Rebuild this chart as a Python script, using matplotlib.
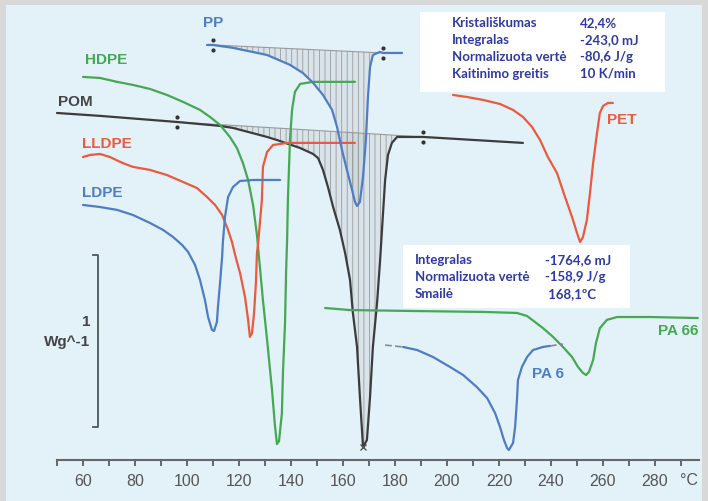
import matplotlib

matplotlib.use("Agg")
import matplotlib.pyplot as plt
import numpy as np
from matplotlib.patches import Rectangle

# DSC kreivės: temperatūra (°C) ir šilumos srautas (W/g, su poslinkiu)
hdpe_t = [60.0, 66.5, 73.1, 79.2, 85.8, 92.3, 98.5, 105.0, 108.8, 112.7, 116.5, 119.2, 121.5, 123.5,
          125.4, 126.9, 129.2, 130.8, 132.7, 133.8, 134.6, 135.4, 136.5, 136.9, 137.7, 138.1, 138.5,
          138.8, 139.6, 140.4, 141.5, 143.5, 148.5, 164.6]
hdpe_q = [2.253, 2.247, 2.224, 2.206, 2.182, 2.147, 2.106, 2.059, 2.018, 1.971, 1.900, 1.835, 1.747, 1.647,
          1.500, 1.324, 0.941, 0.706, 0.412, 0.206, 0.094, 0.112, 0.276, 0.512, 0.806, 1.100, 1.294,
          1.529, 1.882, 2.059, 2.165, 2.212, 2.224, 2.224]

lldpe_t = [60.0, 62.7, 66.5, 70.4, 73.5, 76.2, 79.2, 85.8, 92.3, 98.5, 103.8, 107.7, 110.8, 113.5,
           115.8, 117.3, 118.8, 120.4, 122.3, 123.5, 124.2, 125.0, 125.8, 126.5, 126.9, 127.3, 128.8,
           129.2, 130.8, 133.1, 138.5, 164.6]
lldpe_q = [1.782, 1.794, 1.800, 1.782, 1.759, 1.741, 1.724, 1.706, 1.676, 1.635, 1.600, 1.547, 1.500, 1.441,
           1.353, 1.282, 1.188, 1.100, 0.959, 0.824, 0.724, 0.747, 0.865, 1.041, 1.218, 1.265, 1.529,
           1.724, 1.812, 1.853, 1.865, 1.865]

ldpe_t = [60.0, 66.5, 73.1, 79.2, 85.8, 90.8, 94.6, 98.1, 100.4, 103.1, 105.0, 106.9, 108.1, 109.6,
          110.4, 111.5, 111.9, 112.7, 113.5, 113.8, 114.6, 115.8, 117.7, 120.4, 125.4, 135.8]
ldpe_q = [1.500, 1.488, 1.471, 1.441, 1.394, 1.353, 1.312, 1.265, 1.224, 1.147, 1.059, 0.941, 0.841, 0.765,
          0.759, 0.812, 0.900, 1.041, 1.194, 1.282, 1.429, 1.547, 1.606, 1.641, 1.647, 1.647]

pom_t = [50.0, 66.5, 96.2, 112.7, 117.7, 130.8, 134.6, 143.5, 148.5, 150.4, 152.3, 154.2, 156.2, 158.8,
         160.8, 162.7, 163.8, 165.4, 166.5, 167.7, 169.2, 170.4, 171.5, 173.1, 174.2, 175.4, 176.2,
         177.3, 178.8, 180.8, 190.8, 229.2]
pom_q = [2.041, 2.024, 1.988, 1.965, 1.953, 1.900, 1.882, 1.835, 1.800, 1.776, 1.706, 1.606, 1.488, 1.353,
         1.218, 1.059, 0.865, 0.665, 0.371, 0.076, 0.118, 0.371, 0.665, 0.924, 1.159, 1.453, 1.647,
         1.794, 1.865, 1.900, 1.900, 1.865]

pp_t = [107.7, 110.0, 117.7, 130.8, 139.6, 144.6, 148.5, 152.3, 155.8, 157.7, 159.6, 161.5, 163.5,
        164.6, 165.4, 166.5, 167.7, 168.8, 169.6, 170.4, 171.5, 174.2, 175.4, 182.7]
pp_q = [2.441, 2.441, 2.424, 2.382, 2.324, 2.276, 2.218, 2.147, 2.059, 1.959, 1.824, 1.706, 1.588,
        1.518, 1.494, 1.518, 1.665, 1.882, 2.135, 2.312, 2.382, 2.400, 2.394, 2.394]

pet_t = [202.3, 207.7, 213.8, 220.4, 225.4, 229.2, 232.7, 235.8, 238.8, 242.3, 245.4, 248.1, 250.0,
         251.2, 252.3, 253.8, 255.0, 256.2, 257.7, 258.8, 260.0, 261.9, 263.8]
pet_q = [2.147, 2.135, 2.118, 2.094, 2.059, 2.018, 1.959, 1.882, 1.782, 1.688, 1.547, 1.429, 1.335,
         1.282, 1.312, 1.412, 1.571, 1.747, 1.924, 2.041, 2.082, 2.100, 2.100]

pa66_t = [153.1, 162.7, 188.5, 213.8, 226.9, 230.8, 233.8, 236.9, 240.8, 244.6, 248.1, 250.4, 252.3,
          253.5, 254.6, 256.2, 257.3, 258.8, 261.5, 265.4, 278.1, 296.5]
pa66_q = [0.894, 0.882, 0.876, 0.871, 0.865, 0.847, 0.812, 0.776, 0.724, 0.665, 0.606, 0.547, 0.512,
          0.500, 0.518, 0.588, 0.688, 0.776, 0.824, 0.841, 0.841, 0.835]

pa6_t = [183.1, 188.5, 194.6, 201.2, 206.2, 211.5, 215.4, 218.5, 220.4, 221.9, 223.1, 223.8, 225.4,
         226.2, 226.9, 227.3, 228.8, 230.8, 233.1, 236.9, 239.6]
pa6_q = [0.665, 0.647, 0.606, 0.547, 0.500, 0.429, 0.365, 0.276, 0.194, 0.118, 0.071, 0.059, 0.100,
         0.194, 0.353, 0.471, 0.547, 0.606, 0.647, 0.665, 0.671]
pa6_start_t, pa6_start_q = [176.2, 183.1], [0.676, 0.665]
pa6_end_t, pa6_end_q = [239.6, 244.6], [0.671, 0.682]

# integravimo ribos (žymekliai)
pp_limits_t, pp_limits_q = [110.0, 175.4], [2.441, 2.394]
pom_limits_t, pom_limits_q = [96.2, 190.8], [1.988, 1.900]
pom_peak_t, pom_peak_q = 167.7, 0.076

x_ticks = list(range(60, 300, 20))
x_minor = list(range(50, 300, 10))

info_pet = [("Kristališkumas", "42,4%"), ("Integralas", "-243,0 mJ"),
            ("Normalizuota vertė", "-80,6 J/g"), ("Kaitinimo greitis", "10 K/min")]
info_pom = [("Integralas", "-1764,6 mJ"), ("Normalizuota vertė", "-158,9 J/g"),
            ("Smailė", " 168,1ºC")]

BLUE = "#4f7dc4"
GREEN = "#45a852"
RED = "#ec5a3d"
BLACK = "#3c3c3c"
TXT_BLUE = "#2f3aa3"

plt.rcParams["hatch.linewidth"] = 0.6
plt.rcParams["font.family"] = ["Liberation Sans", "DejaVu Sans"]

fig = plt.figure(figsize=(7.08, 5.01), dpi=100, facecolor="#d8d8d8")
ax = fig.add_axes([6 / 708, 0, 696 / 708, 496 / 501])
ax.set_facecolor("#e3f1f8")
ax.set_xlim(30.38, 298.08)
ax.set_ylim(-0.241, 2.676)


def hatch_peak(t, q, lim_t, lim_q):
    t = np.asarray(t)
    q = np.asarray(q)
    m = (t >= lim_t[0]) & (t <= lim_t[1])
    base = np.interp(t[m], lim_t, lim_q)
    ax.fill_between(t[m], base, q[m], facecolor="#8a8a8a", alpha=0.12, lw=0)
    ax.fill_between(t[m], base, q[m], facecolor="none", edgecolor="#9a9a9a",
                    hatch="|||", lw=0)
    ax.plot(lim_t, lim_q, color="#9a9a9a", lw=0.8)


hatch_peak(pom_t, pom_q, pom_limits_t, pom_limits_q)
hatch_peak(pp_t, pp_q, pp_limits_t, pp_limits_q)

lw = 1.6
style = dict(lw=lw, solid_joinstyle="round", solid_capstyle="round")
ax.plot(pom_t, pom_q, color=BLACK, **style)
ax.plot(hdpe_t, hdpe_q, color=GREEN, **style)
ax.plot(lldpe_t, lldpe_q, color=RED, **style)
ax.plot(ldpe_t, ldpe_q, color=BLUE, **style)
ax.plot(pp_t, pp_q, color=BLUE, **style)
ax.plot(pet_t, pet_q, color=RED, **style)
ax.plot(pa66_t, pa66_q, color=GREEN, **style)
ax.plot(pa6_t, pa6_q, color=BLUE, **style)
ax.plot(pa6_start_t, pa6_start_q, color="#7a8a9a", lw=1.2, ls=(0, (4, 2)))
ax.plot(pa6_end_t, pa6_end_q, color="#7a8a9a", lw=1.2, ls=(0, (4, 2)))

# dvitaškio žymekliai ties integravimo ribomis
for lt, lq in [(pp_limits_t, pp_limits_q), (pom_limits_t, pom_limits_q)]:
    for tt, qq in zip(lt, lq):
        ax.plot([tt, tt], [qq - 0.03, qq + 0.03], ls="none", marker="o", ms=2,
                color="#333333")
ax.plot([pom_peak_t], [pom_peak_q], marker="x", ms=4, color="#555555")

# kreivių pavadinimai
lab = dict(fontsize=11, fontweight="bold", va="center", ha="left")
ax.text(106.2, 2.571, "PP", color=BLUE, **lab)
ax.text(60.8, 2.353, "HDPE", color=GREEN, **lab)
ax.text(50.4, 2.106, "POM", color="#444444", **lab)
ax.text(59.6, 1.859, "LLDPE", color=RED, **lab)
ax.text(59.6, 1.571, "LDPE", color=BLUE, **lab)
ax.text(261.5, 2.000, "PET", color=RED, **lab)
ax.text(281.2, 0.759, "PA 66", color=GREEN, **lab)
ax.text(232.7, 0.506, "PA 6", color=BLUE, **lab)

# skalės juosta 1 W/g
ax.plot([63.8, 65.8, 65.8, 63.8], [1.206, 1.206, 0.194, 0.194], color="#555555", lw=1.3)
ax.text(62.7, 0.812, "1", color="#444444", fontsize=11, fontweight="bold", ha="right", va="center")
ax.text(62.7, 0.694, "Wg^-1", color="#444444", fontsize=11, fontweight="bold", ha="right", va="center")

# informacinės lentelės
txt = dict(color=TXT_BLUE, fontsize=9.5, family="Lato", fontweight="bold", va="center", zorder=4)
ax.add_patch(Rectangle((189.6, 2.165), 94.2, 0.47, facecolor="white", edgecolor="none", zorder=3))
for i, (k, v) in enumerate(info_pet):
    y = 2.571 - i * 0.1
    ax.text(201.9, y, k, **txt)
    ax.text(251.2, y, v, **txt)

ax.add_patch(Rectangle((183.1, 0.894), 87.3, 0.371, facecolor="white", edgecolor="none", zorder=3))
for i, (k, v) in enumerate(info_pom):
    y = 1.176 - i * 0.1
    ax.text(187.7, y, k, **txt)
    ax.text(237.7, y, v, **txt)

# temperatūros ašis
for s in ["left", "right", "top"]:
    ax.spines[s].set_visible(False)
ax.spines["bottom"].set_position(("data", 0))
ax.spines["bottom"].set_bounds(50, 297)
ax.spines["bottom"].set_color("#666666")
ax.spines["bottom"].set_linewidth(1.5)
ax.set_yticks([])
ax.set_xticks(x_ticks)
ax.set_xticks(x_minor, minor=True)
ax.tick_params(axis="x", which="both", direction="out", color="#666666", width=1.4, length=4,
               pad=6, labelsize=11.5, labelcolor="#555555")
ax.text(293.0, -0.118, "°C", color="#555555", fontsize=11.5, ha="center", va="center")

fig.savefig("out.png", dpi=100, facecolor=fig.get_facecolor())
